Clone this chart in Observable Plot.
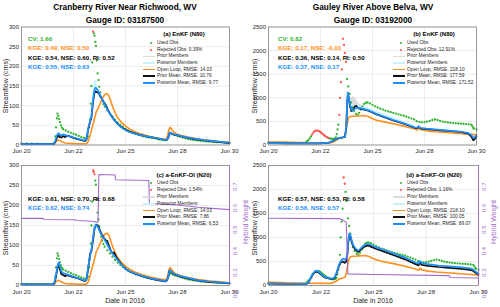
<!DOCTYPE html>
<html><head><meta charset="utf-8">
<script src="https://cdn.jsdelivr.net/npm/d3@7"></script>
<script src="https://cdn.jsdelivr.net/npm/@observablehq/plot@0.6"></script>
<style>
body{margin:0;background:#fff;font-family:"Liberation Sans",Arial,sans-serif;}
#wrap{position:relative;width:500px;height:307px;overflow:hidden;background:#fff;}
.panel{position:absolute;}
.t{position:absolute;white-space:nowrap;line-height:1;}
</style></head><body><div id="wrap"></div>
<script>
// ---------- axes / ticks ----------
const X_TICKS = [0, 2.5, 5, 7.5, 10];            // days since Jun 20 2016
const X_TICK_LABELS = ["Jun 20","Jun 22","Jun 25","Jun 28","Jun 30"];
const Y_TICKS_CRAN = [0,50,100,150,200,250,300];
const Y_TICKS_GAU = [0,500,1000,1500,2000,2500];
const HW_TICKS = [0.2,0.3,0.4,0.5,0.6,0.7];
const HW_DOMAIN = [0.221, 0.779];

// ---------- Cranberry River observations ----------
const cranObsT = [0,0.25,0.5,0.75,1.0,1.25,1.5,1.58,1.62,1.66,1.70,1.73,1.77,1.81,1.85,1.90,1.95,2.0,2.125,2.25,2.375,2.5,2.625,2.75,2.875,3.0,3.1,3.2,3.25,3.29,3.33,3.36,3.40,3.44,3.48,3.51,3.55,3.58,3.62,3.66,3.70,3.74,3.78,3.83,3.875,3.94,4.0,4.125,4.25,4.375,4.5,4.625,4.75,4.875,5.0,5.125,5.25,5.375,5.5,5.625,5.75,5.875,6.0,6.125,6.25,6.375,6.5,6.625,6.75,6.875,7.0,7.05,7.1,7.15,7.2,7.3,7.375,7.5,7.625,7.75,7.875,8.0,8.125,8.25,8.375,8.5,8.625,8.75,8.875,9.0,9.125,9.25,9.375,9.5,9.625,9.75,9.875,10];
const cranObsQ = [4,4,3.5,3.5,3,3,3,5,22,45,68,80,74,66,58,50,44,40,37,34,31,28,26,23,20,18,16,22,45,65,105,150,210,288,284,278,262,252,215,182,165,148,134,122,112,104,97,88,80,72,64,57,51,46,41,37,34,31,28,26,24,22,20,19,18,17,15,14,13,12,14,22,29,31,30,27,25,23,21,19,17,15,14,13,12,11,10,9.5,9,8.5,8,7.5,7,7,6.5,6,6,5.5];
const cranRejA = [3.44];
const cranRejC = [3.44, 3.48, 3.51];

// ---------- Cranberry open loop & means ----------
const cranOLT = [0,1.0,1.55,1.62,1.7,1.78,1.85,1.95,2.1,2.4,2.8,3.1,3.2,3.3,3.4,3.5,3.6,3.7,3.8,3.9,4.0,4.1,4.2,4.3,4.4,4.5,4.6,4.8,5.0,5.2,5.4,5.8,6.2,6.6,6.9,7.0,7.08,7.14,7.2,7.3,7.45,7.7,8.0,8.5,9.0,9.5,10];
const cranOLQ = [3,2.5,2.5,6,11,13,11,8,5,4,3,3,8,25,45,65,85,95,108,120,128,131,126,110,95,82,71,58,48,41,35,27,21,17,14,18,38,45,42,34,28,24,20,15,12,9,7];

const cranPriorAT = [0,1.55,1.62,1.7,1.78,1.85,1.92,2.0,2.08,2.15,2.25,2.35,2.5,2.7,2.9,3.05,3.12,3.2,3.3,3.36,3.42,3.5,3.56,3.62,3.7,3.78,3.86,3.95,4.05,4.15,4.25,4.35,4.5,4.7,4.9,5.1,5.3,5.6,6.0,6.4,6.8,6.95,7.05,7.12,7.2,7.35,7.6,7.9,8.3,8.7,9.2,9.6,10];
const cranPriorAQ = [2,2,8,18,24,20,19,23,20,22,24,21,18,15,12,10,13,38,60,68,100,132,136,134,133,124,118,110,102,90,80,72,61,50,42,36,32,27,22,18,14,12,17,30,29,26,23,19,15,12,9,7,5];
const cranPostAT = [0,1.55,1.62,1.7,1.78,1.85,1.92,2.0,2.1,2.2,2.35,2.5,2.7,2.9,3.05,3.12,3.2,3.3,3.36,3.42,3.5,3.56,3.62,3.7,3.78,3.86,3.95,4.05,4.15,4.25,4.35,4.5,4.7,4.9,5.1,5.3,5.6,6.0,6.4,6.8,6.95,7.05,7.12,7.2,7.35,7.6,7.9,8.3,8.7,9.2,9.6,10];
const cranPostAQ = [2,2,10,24,30,26,24,27,25,23,22,19,16,13,11,14,40,62,72,105,138,146,143,136,127,118,108,98,88,79,71,60,49,41,35,31,27,22,18,14,12,18,32,30,27,24,20,16,13,10,8,6];

const cranPriorCT = [0,1.55,1.62,1.7,1.76,1.8,1.86,1.92,2.0,2.1,2.2,2.3,2.5,2.7,2.9,3.05,3.12,3.2,3.3,3.36,3.45,3.52,3.6,3.68,3.76,3.85,3.95,4.05,4.12,4.2,4.3,4.38,4.45,4.55,4.7,4.85,5.0,5.2,5.5,5.8,6.2,6.6,6.95,7.05,7.12,7.18,7.3,7.6,8.0,8.5,9.0,9.5,10];
const cranPriorCQ = [3,3,12,35,50,52,38,28,26,23,26,24,21,18,14,11,14,40,80,85,118,145,152,150,140,128,120,113,112,100,86,80,83,72,60,50,42,35,28,23,17,13,10,19,38,36,29,23,18,12,9,7,5];
const cranPostCT = [0,1.55,1.62,1.7,1.76,1.8,1.86,1.92,2.0,2.1,2.3,2.5,2.7,2.9,3.05,3.12,3.2,3.3,3.38,3.45,3.52,3.6,3.68,3.76,3.85,3.95,4.05,4.15,4.25,4.35,4.45,4.6,4.8,5.0,5.2,5.5,5.8,6.2,6.6,6.95,7.05,7.12,7.18,7.3,7.6,8.0,8.5,9.0,9.5,10];
const cranPostCQ = [3,3,15,40,55,58,45,35,31,29,26,22,19,15,12,15,45,75,95,125,145,151,146,136,126,118,110,100,90,82,75,65,52,41,35,29,24,18,14,11,20,38,36,30,24,19,13,10,8,6];

// member spread (only where it shows)
const cranPostBandAT = [3.4,3.5,3.56,3.62,3.7,3.8];
const cranPostBandALo = [100,135,140,138,128,118];
const cranPostBandAHi = [125,160,168,160,140,125];
const cranPriorBandAT = [1.65,1.75,1.85,1.95];
const cranPriorBandALo = [8,20,18,18];
const cranPriorBandAHi = [20,34,30,28];
const cranPostBandCT = [3.45,3.52,3.6,3.68,3.76];
const cranPostBandCLo = [120,140,146,140,132];
const cranPostBandCHi = [135,155,162,152,140];

// ---------- Gauley River observations ----------
const gauObsT = [0,0.25,0.5,0.75,1.0,1.25,1.5,1.7,1.8,1.86,1.92,1.98,2.04,2.1,2.16,2.22,2.28,2.34,2.4,2.46,2.52,2.58,2.64,2.7,2.76,2.82,2.88,2.94,3.0,3.06,3.12,3.18,3.24,3.28,3.32,3.36,3.40,3.44,3.48,3.53,3.58,3.63,3.67,3.72,3.78,3.84,3.90,3.96,4.02,4.1,4.2,4.28,4.36,4.44,4.52,4.6,4.68,4.76,4.875,5.0,5.125,5.25,5.375,5.5,5.625,5.75,5.875,6.0,6.125,6.25,6.375,6.5,6.625,6.75,6.875,7.0,7.125,7.25,7.375,7.5,7.625,7.75,7.875,8.0,8.125,8.25,8.375,8.5,8.625,8.75,8.875,9.0,9.125,9.25,9.375,9.5,9.625,9.75,9.8,9.85,9.875,10];
const gauObsQ = [50,48,47,45,44,43,42,45,60,80,105,140,180,225,265,292,305,305,298,285,265,242,218,196,178,162,150,140,133,130,128,135,160,230,330,430,640,1000,1330,1600,2250,2120,1950,1760,1400,1240,1080,900,800,720,660,640,680,750,820,870,895,900,880,850,820,795,770,750,730,712,695,680,665,650,635,620,600,580,560,540,505,485,480,485,495,510,530,540,530,510,495,485,478,470,465,460,456,452,448,444,438,430,400,360,345,330];
const gauRejB = [2.1,2.16,2.22,2.28,2.34,2.4,2.46,2.52,2.58,2.64,2.7,2.76,2.82,2.88,3.40,3.44,3.48,3.53,3.58,3.63,3.67,3.72];
const gauRejD = [3.58, 3.63];

// ---------- Gauley open loop & means ----------
const gauOLT = [0,0.5,1.0,1.5,2.0,2.5,2.9,3.1,3.25,3.4,3.55,3.65,3.72,3.78,3.84,3.9,4.0,4.2,4.4,4.6,4.8,5.0,5.2,5.5,6.0,6.5,7.0,7.15,7.22,7.3,7.6,8.0,8.5,9.0,9.5,10];
const gauOLQ = [65,60,55,50,46,44,45,60,100,140,155,170,300,450,560,600,610,612,620,625,605,555,525,495,450,400,345,320,360,330,300,282,265,250,235,215];

const gauPriorBT = [0,1.0,2.0,2.5,2.9,3.1,3.25,3.4,3.55,3.68,3.74,3.78,3.82,3.86,3.92,3.98,4.05,4.15,4.22,4.3,4.4,4.6,4.8,5.0,5.2,5.5,6.0,6.5,7.05,7.15,7.22,7.3,7.6,8.0,8.4,8.8,9.3,9.6,9.75,9.85,9.92,10];
const gauPriorBQ = [38,35,32,34,48,85,125,148,158,172,380,880,1100,990,820,720,740,820,830,790,770,750,725,690,648,600,520,450,362,358,390,352,338,322,306,292,270,240,180,100,130,180];
const gauPostBT = [0,0.5,1.0,1.5,2.0,2.5,2.9,3.1,3.25,3.4,3.55,3.68,3.74,3.78,3.82,3.86,3.92,3.98,4.05,4.15,4.25,4.4,4.6,4.8,5.0,5.2,5.5,6.0,6.5,6.8,7.05,7.15,7.22,7.3,7.6,8.0,8.4,8.8,9.3,9.6,9.75,9.85,9.92,10];
const gauPostBQ = [40,38,36,34,33,35,50,90,130,150,160,175,400,900,1110,1000,850,750,730,770,790,780,760,735,700,655,610,530,460,410,370,365,400,360,345,330,314,300,280,255,210,150,170,210];

const gauPriorDT = [0,1.0,1.8,1.9,2.0,2.1,2.2,2.28,2.36,2.5,2.65,2.8,2.95,3.05,3.15,3.25,3.35,3.45,3.55,3.62,3.7,3.76,3.8,3.85,3.9,3.97,4.05,4.15,4.25,4.32,4.45,4.6,4.74,4.9,5.14,5.5,6.0,6.5,7.0,7.15,7.22,7.3,7.6,8.1,8.6,9.07,9.5,9.7,9.85,10];
const gauPriorDQ = [38,34,31,55,140,225,275,290,280,228,175,152,142,138,160,260,400,480,500,470,500,650,900,1050,1020,890,800,740,700,710,770,815,835,805,760,705,625,545,445,420,475,430,410,385,368,350,330,315,270,225];
const gauPostDT = [0,1.0,1.8,1.9,2.0,2.1,2.2,2.28,2.36,2.5,2.65,2.8,2.95,3.05,3.15,3.25,3.35,3.45,3.55,3.62,3.7,3.76,3.8,3.85,3.9,3.97,4.05,4.15,4.25,4.32,4.45,4.6,4.74,4.9,5.14,5.5,6.0,6.5,7.0,7.15,7.22,7.3,7.6,8.1,8.6,9.07,9.5,9.7,9.85,10];
const gauPostDQ = [40,36,33,60,150,240,290,305,295,240,185,160,150,145,170,280,420,520,560,540,560,700,950,1080,1050,920,830,770,730,740,800,850,870,840,795,740,660,580,480,455,510,465,445,417,400,382,362,345,295,245];

const gauPriorBandBT = [3.74,3.8,3.86,3.92,3.98,4.05,4.15,4.25,4.35,4.5,4.7,5.0];
const gauPriorBandBLo = [350,800,900,760,680,690,720,740,740,740,720,680];
const gauPriorBandBHi = [500,1150,1080,1000,1000,1020,1000,950,880,830,790,730];
const gauPostBandBT = [3.78,3.86,3.95,4.1,4.3,4.6,5.0,5.5,6.0,6.5,7.0];
const gauPostBandBLo = [850,950,740,720,760,740,680,590,515,445,360];
const gauPostBandBHi = [1150,1060,880,820,840,810,750,660,580,500,400];
const gauPriorBandDT = [3.82,3.88,3.94,4.0,4.08];
const gauPriorBandDLo = [980,1020,960,870,800];
const gauPriorBandDHi = [1100,1120,1080,980,880];

// ---------- hybrid weight ----------
const hwCT = [0,1.05,1.07,2.6,2.62,3.4,3.68,3.72,4.5,4.52,6.12,6.15,7.5,8.5,10];
const hwCV = [0.533,0.533,0.528,0.527,0.523,0.52,0.515,0.737,0.735,0.713,0.709,0.602,0.595,0.585,0.574];
const hwDT = [0,3.38,3.55,3.7,3.78,5,8.6,8.65,10];
const hwDV = [0.534,0.532,0.525,0.515,0.275,0.272,0.267,0.258,0.256];

// ---------- text ----------
const TITLES = [["Cranberry River Near Richwood, WV","Gauge ID: 03187500"],["Gauley River Above Belva, WV","Gauge ID: 03192000"]];
const PANEL_NAMES = ["(a) EnKF (N80)","(b) EnKF (N80)","(c) a-EnKF-OI (N20)","(d) a-EnKF-OI (N20)"];
const REJ_PCT = ["0.39%","12.91%","1.54%","1.16%"];
const RMSE_OL = ["14.03","218.10","14.03","218.10"];
const RMSE_PRIOR = ["10.76","177.59","7.86","100.05"];
const RMSE_POST = ["9.77","171.52","6.53","89.07"];
const CV = ["1.66","0.82"];
const STAT_OL = ["KGE: 0.49, NSE: 0.50","KGE: 0.17, NSE: -0.03"];
const STAT_PRIOR = ["KGE: 0.54, NSE: 0.60, RI: 0.52","KGE: 0.36, NSE: 0.14, RI: 0.50","KGE: 0.61, NSE: 0.70, RI: 0.68","KGE: 0.57, NSE: 0.53, RI: 0.58"];
const STAT_POST = ["KGE: 0.55, NSE: 0.63","KGE: 0.37, NSE: 0.17","KGE: 0.62, NSE: 0.74","KGE: 0.58, NSE: 0.57"];

// ---------- colours ----------
const GREEN="#2fb22f", RED="#ff4f4f", ORANGE="#ff9020", BLUE="#1e8fff", BLACK="#111", PURPLE="#a36ccf",
      GRID="#e4e4e4", PRIOR_M="#dcdcdc", POST_M="#c9f3ff", AXC="#262626";

const ser = (t,q) => t.map((d,i)=>({t:d,q:q[i]}));
const band = (t,lo,hi) => t.map((d,i)=>({t:d,lo:lo[i],hi:hi[i]}));
const xLab = new Map(X_TICKS.map((d,i)=>[d,X_TICK_LABELS[i]]));
const wrap = document.getElementById("wrap");

function panel(c){
  const obs = ser(c.obsT,c.obsQ);
  const rejSet = new Set(c.rej);
  const used = obs.filter(d=>!rejSet.has(d.t)), rej = obs.filter(d=>rejSet.has(d.t));
  const hwS = d3.scaleLinear().domain(HW_DOMAIN).range([0,c.yMax]);
  const marks = [
    Plot.gridX(X_TICKS,{stroke:GRID,strokeOpacity:1,strokeWidth:0.7}),
    Plot.gridY(c.yTicks,{stroke:GRID,strokeOpacity:1,strokeWidth:0.7}),
  ];
  if (c.priorBand) marks.push(Plot.areaY(c.priorBand,{x:"t",y1:"lo",y2:"hi",fill:PRIOR_M}));
  if (c.postBand) marks.push(Plot.areaY(c.postBand,{x:"t",y1:"lo",y2:"hi",fill:POST_M}));
  marks.push(
    Plot.dot(used,{x:"t",y:"q",r:1.15,fill:GREEN}),
    Plot.dot(rej,{x:"t",y:"q",r:1.15,fill:RED}),
    Plot.line(c.ol,{x:"t",y:"q",stroke:ORANGE,strokeWidth:1.6}),
    Plot.line(c.prior,{x:"t",y:"q",stroke:BLACK,strokeWidth:1.7}),
    Plot.line(c.post,{x:"t",y:"q",stroke:BLUE,strokeWidth:1.7})
  );
  if (c.hw) marks.push(Plot.line(c.hw,{x:"t",y:d=>hwS(d.q),stroke:PURPLE,strokeWidth:1.1}));
  marks.push(Plot.frame({stroke:"#777",strokeWidth:0.7}));
  if (c.hw) {
    marks.push(Plot.ruleX([10],{stroke:PURPLE,strokeWidth:0.8}));
    marks.push(Plot.text(HW_TICKS,{y:d=>hwS(d),frameAnchor:"right",dx:6,rotate:-90,text:d=>d.toFixed(1),fill:PURPLE,fontSize:6}));
  }
  marks.push(
    Plot.axisX(X_TICKS,{tickFormat:d=>xLab.get(d),tickSize:0,tickPadding:4,fontSize:6,label:null}),
    Plot.axisY(c.yTicks,{tickFormat:d=>String(d),tickSize:0,tickPadding:2.5,fontSize:6,label:null})
  );
  const svg = Plot.plot({
    width:c.w,height:c.h,marginLeft:c.mL,marginRight:c.mR,marginTop:c.mT,marginBottom:c.mB,
    x:{domain:[0,10]}, y:{domain:[0,c.yMax]},
    style:{fontFamily:'"Liberation Sans",Arial,sans-serif',color:AXC,background:"transparent",overflow:"visible"},
    marks
  });
  svg.classList.add("panel");
  svg.style.left=c.left+"px"; svg.style.top=c.top+"px";
  wrap.appendChild(svg);
}

function txt(s,x,y,o={}){
  const d=document.createElement("div");
  d.className="t"; d.textContent=s;
  d.style.left=x+"px"; d.style.top=y+"px";
  d.style.fontSize=(o.size||6)+"px";
  d.style.fontWeight=o.bold?"bold":"normal";
  d.style.color=o.color||AXC;
  const ax=o.anchor==="middle"?"-50%":"0";
  d.style.transform=`translate(${ax},-50%)`;
  if(o.rotate){d.style.transform=`translate(-50%,-50%) rotate(${o.rotate}deg)`;}
  wrap.appendChild(d);
  return d;
}

function legend(ox,yTitle,y0,step,i){
  txt(PANEL_NAMES[i],ox+184,yTitle,{size:6,bold:true,anchor:"middle",color:"#000"});
  const items=[
    ["dot",GREEN,"Used Obs"],["dot",RED,"Rejected Obs: "+REJ_PCT[i]],
    ["line",PRIOR_M,"Prior Members"],["line",POST_M,"Posterior Members"],
    ["line",ORANGE,"Open Loop, RMSE: "+RMSE_OL[i]],["line",BLACK,"Prior Mean, RMSE: "+RMSE_PRIOR[i]],
    ["line",BLUE,"Posterior Mean, RMSE: "+RMSE_POST[i]]
  ];
  items.forEach(([k,col,s],j)=>{
    const y=y0+j*step;
    const m=document.createElement("div");
    m.style.position="absolute";
    if(k==="dot"){m.style.left=(ox+150)+"px";m.style.top=(y-1.2)+"px";m.style.width="2.4px";m.style.height="2.4px";m.style.borderRadius="50%";m.style.background=col;}
    else{m.style.left=(ox+143)+"px";m.style.top=(y-0.9)+"px";m.style.width="12px";m.style.height="1.8px";m.style.background=col;}
    wrap.appendChild(m);
    txt(s,ox+157,y,{size:4.8});
  });
}

const cranA = {obsT:cranObsT,obsQ:cranObsQ,ol:ser(cranOLT,cranOLQ),yMax:300,yTicks:Y_TICKS_CRAN};
const gauB = {obsT:gauObsT,obsQ:gauObsQ,ol:ser(gauOLT,gauOLQ),yMax:2500,yTicks:Y_TICKS_GAU};

panel({...cranA,rej:cranRejA,prior:ser(cranPriorAT,cranPriorAQ),post:ser(cranPostAT,cranPostAQ),
  priorBand:band(cranPriorBandAT,cranPriorBandALo,cranPriorBandAHi),postBand:band(cranPostBandAT,cranPostBandALo,cranPostBandAHi),
  left:0,top:0,w:250,h:160,mL:21,mR:21,mT:26.5,mB:15.5});
panel({...gauB,rej:gauRejB,prior:ser(gauPriorBT,gauPriorBQ),post:ser(gauPostBT,gauPostBQ),
  priorBand:band(gauPriorBandBT,gauPriorBandBLo,gauPriorBandBHi),postBand:band(gauPostBandBT,gauPostBandBLo,gauPostBandBHi),
  left:250,top:0,w:250,h:160,mL:18,mR:24,mT:26.5,mB:15.5});
panel({...cranA,rej:cranRejC,prior:ser(cranPriorCT,cranPriorCQ),post:ser(cranPostCT,cranPostCQ),
  postBand:band(cranPostBandCT,cranPostBandCLo,cranPostBandCHi),hw:ser(hwCT,hwCV),
  left:0,top:150,w:250,h:157,mL:21,mR:21,mT:15,mB:22});
panel({...gauB,rej:gauRejD,prior:ser(gauPriorDT,gauPriorDQ),post:ser(gauPostDT,gauPostDQ),
  priorBand:band(gauPriorBandDT,gauPriorBandDLo,gauPriorBandDHi),hw:ser(hwDT,hwDV),
  left:250,top:150,w:250,h:157,mL:18,mR:22,mT:15,mB:22});

// titles, stats, labels
[0,1].forEach(k=>{
  const cx = k===0?125:373;
  const ox=k*250;
  txt(TITLES[k][0],cx,7.3,{size:8.3,bold:true,anchor:"middle",color:"#000"});
  txt(TITLES[k][1],cx,20,{size:8.3,bold:true,anchor:"middle",color:"#000"});
  txt("CV: "+CV[k],ox+28,39,{size:6.2,bold:true,color:GREEN});
  txt(STAT_OL[k],ox+28,48.3,{size:6.2,bold:true,color:ORANGE});
  txt(STAT_PRIOR[k],ox+28,58,{size:6.2,bold:true,color:"#000"});
  txt(STAT_POST[k],ox+28,67.3,{size:6.2,bold:true,color:BLUE});
  txt(STAT_PRIOR[k+2],ox+28,199.3,{size:6.2,bold:true,color:"#000"});
  txt(STAT_POST[k+2],ox+28,208.3,{size:6.2,bold:true,color:BLUE});
  legend(ox,34,43.3,6.57,k);
  legend(ox,175,183.3,6.8,k+2);
  txt("Streamflow (cms)",ox+(k===0?5:4),86,{size:7,rotate:-90});
  txt("Streamflow (cms)",ox+(k===0?5:4),228,{size:7,rotate:-90});
  txt("Date in 2016",cx,300,{size:7,anchor:"middle"});
  txt("Hybrid Weight",k===0?245:493,222,{size:7,rotate:-90,color:PURPLE});
});
</script></body></html>
